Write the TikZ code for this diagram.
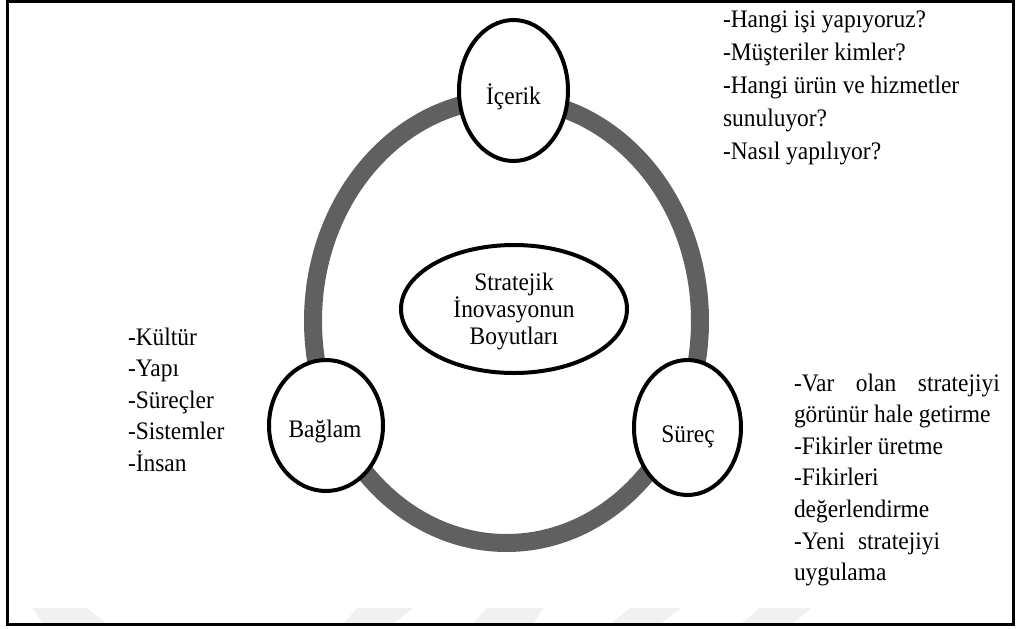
\documentclass[tikz,border=0pt]{standalone}
\usepackage{fontspec}
\setmainfont{Liberation Serif}
\usetikzlibrary{shapes.geometric}
\definecolor{ringgray}{RGB}{96,96,96}
\definecolor{markgray}{RGB}{241,241,241}
% slightly condensed serif text
\newcommand{\nrw}[1]{\scalebox{0.93}[1]{#1}}
\begin{document}
\begin{tikzpicture}[x=0.5pt,y=-0.5pt,
  every node/.style={font=\fontsize{12.6pt}{15.8pt}\selectfont, inner sep=0pt, outer sep=0pt},
  ring/.style={draw=ringgray, line width=9pt},
  dimnode/.style={ellipse, draw=black, line width=2pt, fill=white},
  listline/.style={anchor=base west},
  centerline/.style={anchor=base},
  frameline/.style={draw=black, line width=1.4pt}
]
\useasboundingbox (0,0) rectangle (1019,628);

% faint background marks along the bottom edge
\fill[markgray] (33,608) -- (87,608) -- (107,624) -- (43,624) -- cycle;
\fill[markgray] (357,608) -- (413,608) -- (393,624) -- (343,624) -- cycle;
\fill[markgray] (487,608) -- (543,608) -- (533,624) -- (473,624) -- cycle;
\fill[markgray] (630,608) -- (682,608) -- (660,624) -- (610,624) -- cycle;
\fill[markgray] (760,608) -- (812,608) -- (792,624) -- (740,624) -- cycle;

% outer frame
\draw[frameline] (7.5,1.5) rectangle (1013.5,624.5);

% the grey ring joining the three dimensions
\draw[ring] (506.5,321) ellipse [x radius=193.5, y radius=222];

% dimension nodes
\node[dimnode, minimum width=54.5pt, minimum height=70.5pt] (icerik) at (513.5,90.5) {};
\node[dimnode, minimum width=57pt, minimum height=65.5pt] (baglam) at (326,425.5) {};
\node[dimnode, minimum width=53.5pt, minimum height=67.5pt] (surec) at (687.5,427.5) {};
\node[dimnode, minimum width=113pt, minimum height=64pt] (core) at (514,309) {};

% labels inside the nodes
\node[centerline] (icerikT) at (513.5,104) {\nrw{İçerik}};
\node[centerline] (baglamT) at (325,437) {\nrw{Bağlam}};
\node[centerline] (surecT) at (688,442) {\nrw{Süreç}};
\node[centerline] (coreA) at (514,290) {\nrw{Stratejik}};
\node[centerline] (coreB) at (514,317) {\nrw{İnovasyonun}};
\node[centerline] (coreC) at (514,344) {\nrw{Boyutları}};

% content questions
\foreach \t [count=\i] in {-Hangi işi yapıyoruz?, -Müşteriler kimler?, -Hangi ürün ve hizmetler, sunuluyor?, -Nasıl yapılıyor?}
  \node[listline] (q\i) at (723, {27+33*(\i-1)}) {\nrw{\t}};

% context items
\foreach \t [count=\i] in {-Kültür, -Yapı, -Süreçler, -Sistemler, -İnsan}
  \node[listline] (c\i) at (128, {345+31.5*(\i-1)}) {\nrw{\t}};

% process steps
\node[listline] (p1) at (794,391) {\nrw{\makebox[110.7pt][s]{-Var olan stratejiyi}}};
\node[listline] (p2) at (794,422.6) {\nrw{görünür hale getirme}};
\node[listline] (p3) at (794,454.2) {\nrw{-Fikirler üretme}};
\node[listline] (p4) at (794,485.8) {\nrw{-Fikirleri}};
\node[listline] (p5) at (794,517.4) {\nrw{değerlendirme}};
\node[listline] (p6) at (794,549) {\nrw{-Yeni\hspace{7pt}stratejiyi}};
\node[listline] (p7) at (794,580.6) {\nrw{uygulama}};
\end{tikzpicture}
\end{document}
